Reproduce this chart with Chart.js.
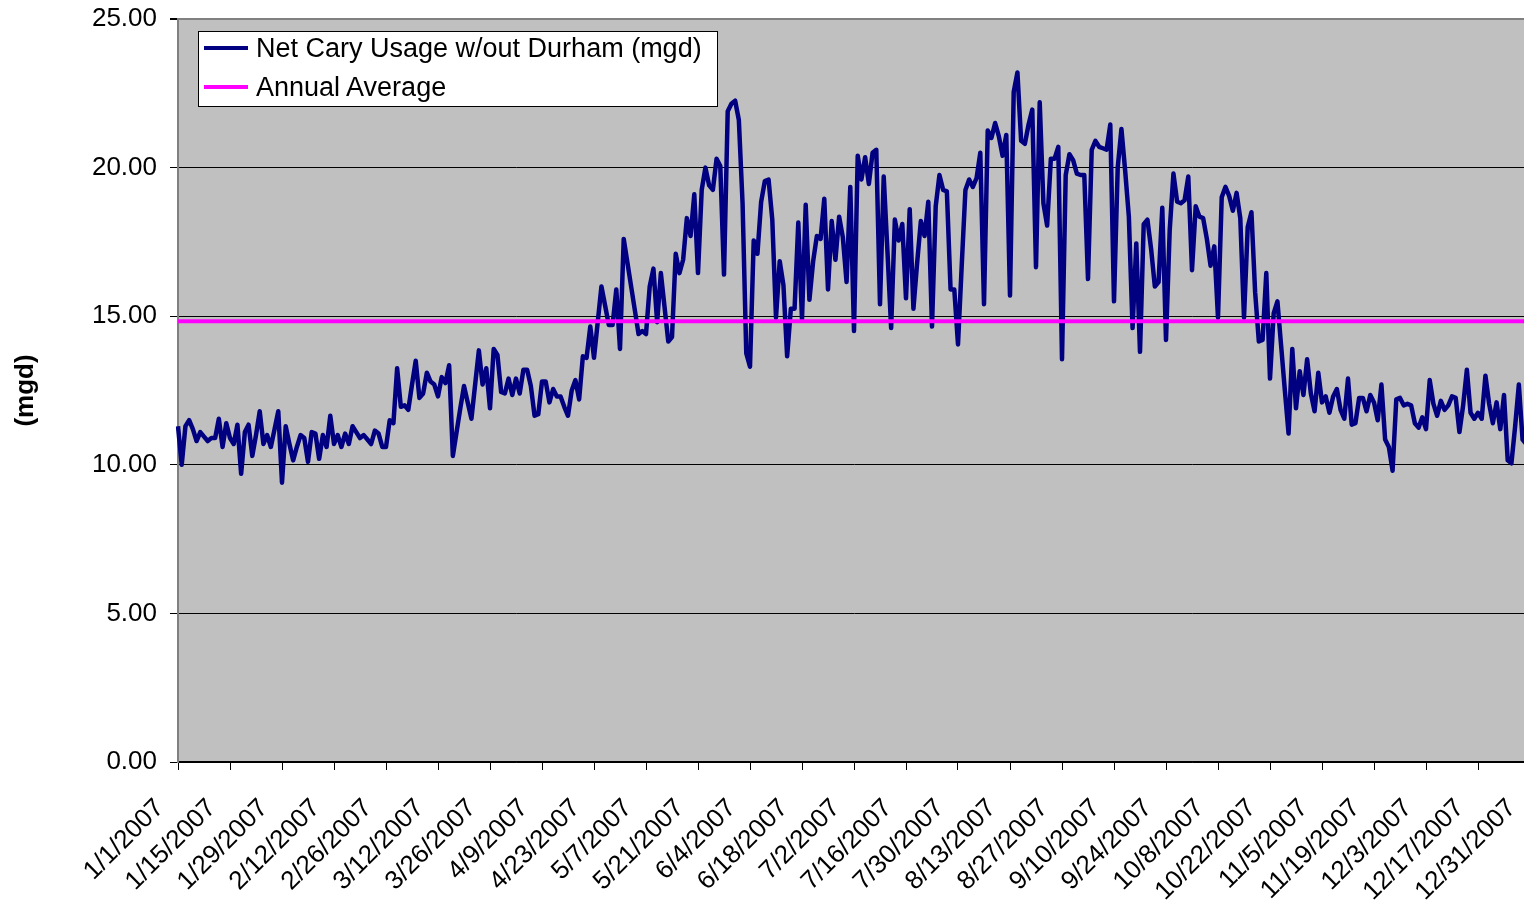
<!DOCTYPE html>
<html lang="en">

<head>
    <meta charset="UTF-8">
    <title>Net Cary Usage 2007</title>
    <script src="https://cdn.jsdelivr.net/npm/chart.js"></script>
    <style>
        html,
        body {
            margin: 0;
            padding: 0;
            background: #fff;
            overflow: hidden;
        }

        #wrap {
            position: relative;
            width: 1545px;
            height: 900px;
        }

        #legendBox {
            position: absolute;
            left: 198px;
            top: 31px;
            width: 520px;
            height: 76px;
            box-sizing: border-box;
            background: #fff;
            border: 1px solid #000;
            font-family: "Liberation Sans", Arial, sans-serif;
            font-size: 27px;
            color: #000;
        }

        .legend-row {
            position: absolute;
            left: 5px;
            height: 38px;
            display: flex;
            align-items: center;
            white-space: nowrap;
            line-height: 38px;
        }

        .legend-swatch {
            width: 44px;
            height: 0;
            border-top: 4px solid;
            margin-right: 8px;
        }
    </style>
</head>

<body>

    <div id="wrap">
        <canvas id="usageChart"></canvas>
        <div id="legendBox"></div>
    </div>

    <script>
        // daily net usage (mgd), one array per month
        const jan = [11.3, 10.0, 11.3, 11.5, 11.2, 10.8, 11.1, 10.95, 10.8, 10.9, 10.9, 11.55, 10.6, 11.4, 10.9, 10.7,
            11.35, 9.7, 11.1, 11.35, 10.3, 11.0, 11.8, 10.7, 11.0, 10.6, 11.2, 11.8, 9.4, 11.3, 10.7];
        const feb = [10.15, 10.6, 11.0, 10.9, 10.1, 11.1, 11.05, 10.2, 11.0, 10.6, 11.65, 10.7, 11.0, 10.6, 11.05, 10.7,
            11.3, 11.1, 10.9, 11.0, 10.85, 10.7, 11.15, 11.05, 10.6, 10.6, 11.5, 11.4];
        const mar = [13.25, 11.95, 12.0, 11.85, 12.7, 13.5, 12.25, 12.4, 13.1, 12.8, 12.7, 12.3, 12.95, 12.75, 13.35, 10.3,
            11.1, 11.9, 12.65, 12.1, 11.55, 12.7, 13.85, 12.7, 13.25, 11.9, 13.9, 13.7, 12.45, 12.4, 12.9];
        const apr = [12.35, 12.9, 12.4, 13.2, 13.2, 12.65, 11.65, 11.7, 12.8, 12.8, 12.1, 12.55, 12.3, 12.3, 11.95, 11.65,
            12.5, 12.85, 12.2, 13.65, 13.6, 14.65, 13.6, 14.8, 16.0, 15.35, 14.7, 14.7, 15.9, 13.9];
        const may = [17.6, 16.8, 16.0, 15.2, 14.4, 14.5, 14.4, 16.0, 16.6, 14.8, 16.45, 15.3, 14.15, 14.3, 17.1, 16.45,
            16.9, 18.3, 17.7, 19.1, 16.45, 19.25, 20.0, 19.4, 19.25, 20.3, 20.05, 16.4, 21.9, 22.15, 22.25];
        const jun = [21.6, 18.8, 13.75, 13.3, 17.55, 17.1, 18.85, 19.55, 19.6, 18.25, 14.95, 16.85, 16.05, 13.65, 15.25,
            15.25, 18.15, 14.9, 18.75, 15.55, 16.85, 17.7, 17.6, 18.95, 15.9, 18.2, 16.9, 18.35, 17.65, 16.15];
        const jul = [19.35, 14.5, 20.4, 19.6, 20.35, 19.45, 20.5, 20.6, 15.4, 19.7, 17.2, 14.6, 18.25, 17.55, 18.1, 15.6,
            18.6, 15.25, 16.8, 18.2, 17.7, 18.85, 14.65, 18.7, 19.75, 19.25, 19.2, 15.9, 15.9, 14.05, 16.7];
        const aug = [19.25, 19.6, 19.35, 19.65, 20.5, 15.4, 21.25, 21.0, 21.5, 21.05, 20.4, 21.1, 15.7, 22.55, 23.2, 20.9,
            20.8, 21.45, 21.95, 16.65, 22.2, 18.8, 18.05, 20.3, 20.3, 20.7, 13.55, 19.75, 20.45, 20.25, 19.8];
        const sep = [19.75, 19.75, 16.25, 20.6, 20.9, 20.7, 20.65, 20.6, 21.45, 15.5, 20.0, 21.3, 19.9, 18.35, 14.6, 17.45,
            13.8, 18.1, 18.25, 17.25, 16.0, 16.15, 18.65, 14.2, 17.9, 19.8, 18.85, 18.8, 18.9, 19.7];
        const oct = [16.55, 18.7, 18.35, 18.3, 17.6, 16.7, 17.35, 14.95, 19.0, 19.35, 19.05, 18.55, 19.15, 18.3, 14.95, 18.0,
            18.5, 15.8, 14.15, 14.2, 16.45, 12.9, 15.1, 15.5, 14.0, 12.5, 11.05, 13.9, 11.9, 13.15, 12.35];
        const nov = [13.55, 12.4, 11.8, 13.1, 12.1, 12.3, 11.75, 12.3, 12.55, 11.85, 11.55, 12.9, 11.35, 11.4, 12.25, 12.25,
            11.8, 12.35, 12.1, 11.5, 12.7, 10.85, 10.6, 9.8, 12.2, 12.25, 12.0, 12.05, 12.0, 11.4];
        const dec = [11.25, 11.6, 11.2, 12.85, 12.05, 11.65, 12.15, 11.85, 12.0, 12.3, 12.25, 11.1, 12.0, 13.2, 11.75, 11.55,
            11.75, 11.55, 13.0, 12.05, 11.4, 12.1, 11.2, 12.35, 10.15, 10.05, 11.3, 12.7, 10.85, 10.7, 11.0];

        const ANNUAL_AVG = 14.83;
        const yTicks = [0, 5, 10, 15, 20, 25];

        const usage = [].concat(jan, feb, mar, apr, may, jun, jul, aug, sep, oct, nov, dec);

        // one category per day of 2007, labelled like 1/15/2007
        const dates = [];
        for (let d = new Date(2007, 0, 1); d.getFullYear() === 2007; d.setDate(d.getDate() + 1)) {
            dates.push((d.getMonth() + 1) + '/' + d.getDate() + '/2007');
        }

        Chart.defaults.font.family = '"Liberation Sans", Arial, sans-serif';
        Chart.defaults.font.size = 26;
        Chart.defaults.color = '#000';

        // grey plot area like the spreadsheet chart
        const plotBackground = {
            id: 'plotBackground',
            beforeDraw(chart) {
                const { ctx, chartArea } = chart;
                ctx.save();
                ctx.fillStyle = '#C0C0C0';
                ctx.fillRect(chartArea.left, chartArea.top, chartArea.right - chartArea.left, chartArea.bottom - chartArea.top);
                ctx.restore();
            }
        };

        const chart = new Chart(document.getElementById('usageChart'), {
            type: 'line',
            data: {
                labels: dates,
                datasets: [{
                    label: 'Net Cary Usage w/out Durham (mgd)',
                    data: usage,
                    borderColor: '#000080',
                    borderWidth: 4.5,
                    borderJoinStyle: 'round',
                    pointRadius: 0,
                    tension: 0,
                    order: 2
                }, {
                    label: 'Annual Average',
                    data: dates.map(() => ANNUAL_AVG),
                    borderColor: '#FF00FF',
                    borderWidth: 4,
                    pointRadius: 0,
                    order: 1
                }]
            },
            options: {
                responsive: true,
                maintainAspectRatio: false,
                animation: false,
                layout: {
                    padding: { top: 19, right: 15, bottom: 0, left: 0 }
                },
                plugins: {
                    legend: { display: false },
                    tooltip: { enabled: false }
                },
                scales: {
                    x: {
                        grid: { drawOnChartArea: false, tickLength: 8, color: '#000' },
                        border: { color: '#000', width: 1.5 },
                        ticks: {
                            autoSkip: false,
                            minRotation: 45,
                            maxRotation: 45,
                            labelOffset: -18,
                            padding: 23
                        },
                        afterBuildTicks: scale => {
                            scale.ticks = scale.ticks.filter(t => t.value % 14 === 0);
                        },
                        afterFit: scale => {
                            scale.height = 138;
                            scale.paddingLeft = 0;
                            scale.paddingRight = 0;
                        }
                    },
                    y: {
                        min: 0,
                        max: 25,
                        afterBuildTicks: scale => {
                            scale.ticks = yTicks.map(v => ({ value: v }));
                        },
                        ticks: {
                            padding: 13,
                            callback: value => Number(value).toFixed(2)
                        },
                        grid: {
                            color: ctx => ctx.tick && ctx.tick.value === 25 ? '#808080' : '#000',
                            lineWidth: ctx => ctx.tick && ctx.tick.value === 25 ? 2 : 1,
                            tickColor: '#000',
                            tickLength: 8
                        },
                        border: { color: '#808080', width: 2 },
                        title: {
                            display: true,
                            text: '(mgd)',
                            font: { size: 26, weight: 'bold' },
                            padding: { top: 10, bottom: 0 }
                        },
                        afterFit: scale => {
                            scale.width = 178;
                            scale.paddingTop = 0;
                            scale.paddingBottom = 0;
                        }
                    }
                }
            },
            plugins: [plotBackground]
        });

        // legend box drawn over the plot, built from the datasets
        const legendBox = document.getElementById('legendBox');
        chart.data.datasets.forEach((ds, i) => {
            const row = document.createElement('div');
            row.className = 'legend-row';
            row.style.top = (i === 0 ? -3 : 36) + 'px';
            const swatch = document.createElement('span');
            swatch.className = 'legend-swatch';
            swatch.style.borderTopColor = ds.borderColor;
            const text = document.createElement('span');
            text.textContent = ds.label;
            row.appendChild(swatch);
            row.appendChild(text);
            legendBox.appendChild(row);
        });
    </script>

</body>

</html>
